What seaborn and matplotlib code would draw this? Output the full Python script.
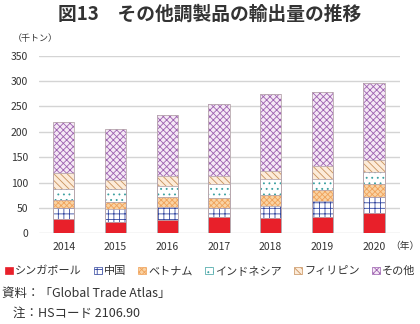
import matplotlib
matplotlib.use("Agg")
import matplotlib.pyplot as plt
import matplotlib.patches as mpatches
import seaborn as sns
import pandas as pd
import numpy as np

years = ["2014", "2015", "2016", "2017", "2018", "2019", "2020"]
singapore = [28, 22, 26, 33, 31, 33, 39]
china = [22, 26, 26, 17, 23, 31, 32]
vietnam = [16, 14, 19, 20, 21, 21, 26]
indonesia = [21, 26, 22, 28, 32, 22, 24]
philippines = [32, 17, 19, 14, 16, 25, 23]
others = [100, 100, 121, 143, 151, 147, 153]

series_names = ["シンガポール", "中国", "ベトナム", "インドネシア", "フィリピン", "その他"]
series_vals = [singapore, china, vietnam, indonesia, philippines, others]

face_colors = ["#E8202A", "#FFFFFF", "#F9D3A4", "#FFFFFF", "#FCEBD9", "#F5E8F5"]
hatch_colors = ["#E8202A", "#3347A0", "#F0A25A", "#3AA0A0", "#C8915C", "#9D62B0"]
hatches = ["", "+++", "xxxxxx", "...", "\\\\\\\\\\", "xxxxx"]

sns.set_theme(style="white")
plt.rcParams["font.family"] = ["Noto Sans CJK JP", "DejaVu Sans"]
plt.rcParams["hatch.linewidth"] = 0.6

fig = plt.figure(figsize=(4.2, 3.24), dpi=100)
ax = fig.add_axes([0.093, 0.280, 0.859, 0.548])

cum = np.cumsum(np.array(series_vals), axis=0)
df = pd.DataFrame({"year": years})
for i in range(len(series_names) - 1, -1, -1):
    df["h"] = cum[i]
    sns.barplot(data=df, x="year", y="h", ax=ax, width=0.41,
                color=face_colors[i], saturation=1, linewidth=0,
                edgecolor=hatch_colors[i], hatch=hatches[i], zorder=3)
for i in range(len(series_names)):
    df["h"] = cum[i]
    sns.barplot(data=df, x="year", y="h", ax=ax, width=0.41, fill=False,
                color="#B8A8AE", linewidth=0.6, zorder=4)

ax.set_ylim(0, 350)
ax.set_xlim(-0.48, 6.5)
ax.set_yticks(range(0, 351, 50))
ax.yaxis.grid(True, color="#D4D4D4", linewidth=1.0, zorder=0)
ax.xaxis.grid(False)
for s in ax.spines.values():
    s.set_visible(False)
ax.set_xlabel("")
ax.set_ylabel("")
ax.tick_params(axis="both", length=0, labelsize=7.5, colors="#333333")
ax.tick_params(axis="y", pad=8)
ax.tick_params(axis="x", pad=6)

fig.text(0.5, 0.955, "図13　その他調製品の輸出量の推移", ha="center", va="center",
         fontsize=13.5, fontweight="bold", color="#333333")
fig.text(0.03, 0.882, "（千トン）", ha="left", va="center", fontsize=6.5, color="#333333")
ax.text(6.32, -0.045, "（年）", transform=ax.get_xaxis_transform(), ha="left", va="top",
        fontsize=7, color="#333333")

handles = [mpatches.Patch(facecolor=face_colors[i], edgecolor=hatch_colors[i],
                          hatch=hatches[i], linewidth=0.5) for i in range(len(series_names))]
fig.legend(handles, series_names, loc="center", bbox_to_anchor=(0.5, 0.163), ncol=6,
           frameon=False, fontsize=8, handlelength=0.7, handleheight=0.7,
           handletextpad=0.2, columnspacing=1.1, labelcolor="#333333")

fig.text(0.005, 0.095, "資料：「Global Trade Atlas」", ha="left", va="center",
         fontsize=9, color="#333333")
fig.text(0.03, 0.033, "注：HSコード 2106.90", ha="left", va="center",
         fontsize=9, color="#333333")

fig.savefig("out.png", dpi=100)
